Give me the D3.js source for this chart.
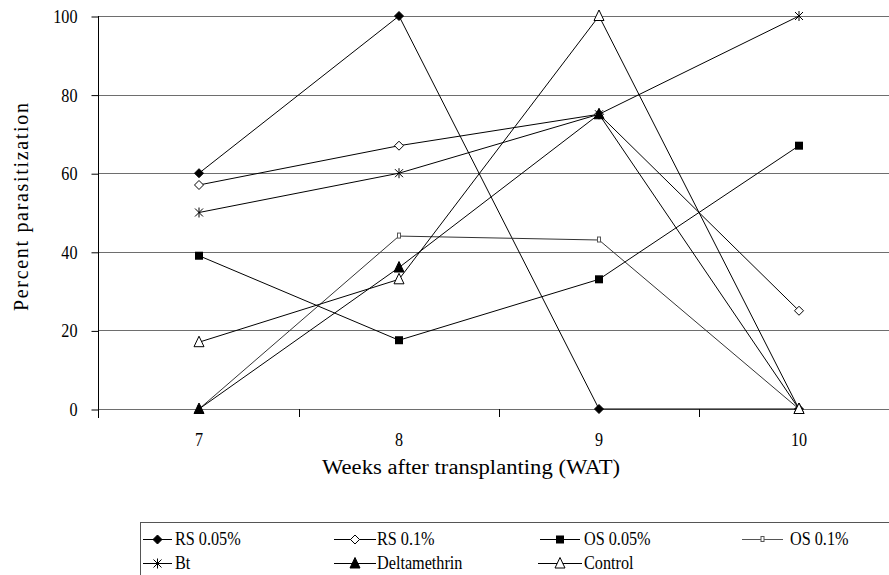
<!DOCTYPE html>
<html><head><meta charset="utf-8">
<script src="https://cdn.jsdelivr.net/npm/d3@7"></script>
<style>
html,body{margin:0;padding:0;background:#fff;}
svg{display:block;}
svg text{font-family:"Liberation Serif","Times New Roman",Tinos,Times,serif !important;}
</style></head>
<body>
<svg id="chart" width="889" height="575"></svg>
<script>
const weeks = ["7","8","9","10"];
const seriesNames = ["RS 0.05%","RS 0.1%","OS 0.05%","OS 0.1%","Bt","Deltamethrin","Control"];
const rs005 = [60, 100, 0, 0];
const rs01 = [57, 67, 75, 25];
const os005 = [39, 17.5, 33, 67];
const os01 = [0, 44, 43, 0];
const bt = [50, 60, 75, 100];
const delta = [0, 36, 75, 0];
const control = [17, 33, 100, 0];
const yTicks = [0, 20, 40, 60, 80, 100];
const markers = ["diamondFill","diamondOpen","squareFill","squareSmall","star","triFill","triOpen"];
const seriesValues = [rs005, rs01, os005, os01, bt, delta, control];

const svg = d3.select("#chart");
const x = d3.scaleBand().domain(weeks).range([99, 899]);
const y = d3.scaleLinear().domain([0, 100]).range([409, 16]);

function condense(sel, f) {
  sel.each(function () {
    const len = this.getComputedTextLength();
    d3.select(this).attr("textLength", len * f).attr("lengthAdjust", "spacingAndGlyphs");
  });
}

// gridlines
svg.append("g").selectAll("line").data(yTicks).join("line")
  .attr("x1", 98).attr("x2", 889)
  .attr("y1", d => Math.round(y(d)) + 0.5).attr("y2", d => Math.round(y(d)) + 0.5)
  .attr("stroke", "#6e6e6e").attr("stroke-width", 1);

// y axis
const yAxis = svg.append("g").attr("transform", "translate(98.5,0.5)")
  .call(d3.axisLeft(y).tickValues(yTicks).tickSize(7).tickPadding(14).tickSizeOuter(0));
yAxis.select(".domain").remove();
yAxis.selectAll(".tick line").attr("stroke", "#000");
yAxis.selectAll(".tick text").attr("font-size", 19).attr("fill", "#000");
condense(yAxis.selectAll(".tick text"), 0.85);
svg.append("line").attr("x1", 98.5).attr("x2", 98.5).attr("y1", y(100)).attr("y2", 418).attr("stroke", "#000");

// x axis ticks at category boundaries
const bounds = weeks.map(d => x(d) + x.bandwidth());
svg.append("g").selectAll("line").data(bounds).join("line")
  .attr("x1", d => Math.round(d) + 0.5).attr("x2", d => Math.round(d) + 0.5)
  .attr("y1", 409).attr("y2", 417).attr("stroke", "#000");
const xAxis = svg.append("g").attr("transform", "translate(0,409)")
  .call(d3.axisBottom(x).tickSize(0).tickPadding(24));
xAxis.select(".domain").remove();
xAxis.selectAll(".tick text").attr("font-size", 19).attr("fill", "#000");
condense(xAxis.selectAll(".tick text"), 0.85);

// axis titles
svg.append("text").attr("transform", "translate(28,207) rotate(-90)")
  .attr("text-anchor", "middle").attr("font-size", 20)
  .attr("textLength", 208).attr("lengthAdjust", "spacing")
  .text("Percent parasitization");
svg.append("text").attr("x", 471).attr("y", 474)
  .attr("text-anchor", "middle").attr("font-size", 20)
  .attr("textLength", 298).attr("lengthAdjust", "spacingAndGlyphs")
  .text("Weeks after transplanting (WAT)");

function drawMarker(g, type) {
  switch (type) {
    case "diamondFill":
      g.append("path").attr("d", "M0,-4.5L4.5,0L0,4.5L-4.5,0Z").attr("fill", "#000").attr("stroke", "#000"); break;
    case "diamondOpen":
      g.append("path").attr("d", "M0,-4.5L4.5,0L0,4.5L-4.5,0Z").attr("fill", "#fff").attr("stroke", "#000"); break;
    case "squareFill":
      g.append("rect").attr("x", -4).attr("y", -4).attr("width", 8).attr("height", 8).attr("fill", "#000"); break;
    case "squareSmall":
      g.append("rect").attr("x", -1.5).attr("y", -3).attr("width", 3).attr("height", 5).attr("fill", "#fff").attr("stroke", "#555"); break;
    case "star":
      g.append("path").attr("d", "M-4,-4L4,4M-4,4L4,-4M0,-5L0,5").attr("fill", "none").attr("stroke", "#000"); break;
    case "triFill":
      g.append("path").attr("d", "M0,-6L5,4.5L-5,4.5Z").attr("fill", "#000").attr("stroke", "#000"); break;
    case "triOpen":
      g.append("path").attr("d", "M0,-6L5,4.5L-5,4.5Z").attr("fill", "#fff").attr("stroke", "#000"); break;
  }
}

const line = d3.line().x((d, i) => x(weeks[i]) + x.bandwidth() / 2).y(d => y(d));
seriesValues.forEach((vals, si) => {
  svg.append("path").attr("d", line(vals)).attr("fill", "none")
    .attr("stroke", si === 3 ? "#333" : "#000").attr("stroke-width", 1);
});
seriesValues.forEach((vals, si) => {
  vals.forEach((v, i) => {
    const g = svg.append("g").attr("transform", `translate(${x(weeks[i]) + x.bandwidth() / 2},${y(v)})`);
    drawMarker(g, markers[si]);
  });
});

// legend
svg.append("rect").attr("x", 140.5).attr("y", 522.5).attr("width", 760).attr("height", 70)
  .attr("fill", "none").attr("stroke", "#555");
const legendPos = [
  {lx1: 143, lx2: 172, tx: 175, ty: 539},
  {lx1: 334, lx2: 376, tx: 377, ty: 539},
  {lx1: 540, lx2: 580, tx: 584, ty: 539},
  {lx1: 742, lx2: 783, tx: 790, ty: 539},
  {lx1: 143, lx2: 172, tx: 175, ty: 563},
  {lx1: 334, lx2: 376, tx: 377, ty: 563},
  {lx1: 538, lx2: 582, tx: 584, ty: 563}
];
seriesNames.forEach((name, si) => {
  const p = legendPos[si];
  svg.append("line").attr("x1", p.lx1).attr("x2", p.lx2).attr("y1", p.ty + 0.5).attr("y2", p.ty + 0.5)
    .attr("stroke", si === 3 ? "#555" : "#000");
  const g = svg.append("g").attr("transform", `translate(${(p.lx1 + p.lx2) / 2},${p.ty + 0.5})`);
  drawMarker(g, markers[si]);
  const t = svg.append("text").attr("x", p.tx).attr("y", p.ty).attr("dy", "0.35em")
    .attr("font-size", 18).text(name);
  condense(t, 0.9);
});
</script>
</body></html>
